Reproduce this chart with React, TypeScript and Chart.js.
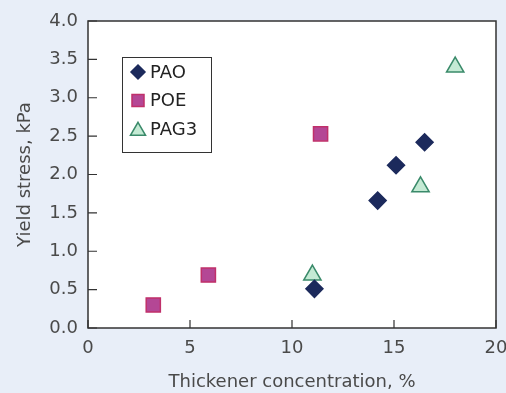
import React, { useEffect, useRef } from "react";
import { Chart, registerables } from "chart.js";

Chart.register(...registerables);

const seriesNames = ["PAO", "POE", "PAG3"];
const paoX = [11.1, 14.2, 15.1, 16.5];
const paoY = [0.51, 1.66, 2.12, 2.42];
const poeX = [3.2, 5.9, 11.4];
const poeY = [0.3, 0.69, 2.53];
const pag3X = [11.0, 16.3, 18.0];
const pag3Y = [0.69, 1.84, 3.4];

const xTitle = "Thickener concentration, %";
const yTitle = "Yield stress, kPa";

const FONT = "'DejaVu Sans', sans-serif";
const TEXT = "#4a4a4a";
const AXIS = "#333333";

const styles = [
  { pointStyle: "rectRot", radius: 8.5, legendRadius: 7, fill: "#1c2a5c", border: "#1c2a5c" },
  { pointStyle: "rect", radius: 10, legendRadius: 8.5, fill: "#b44795", border: "#c0306a" },
  { pointStyle: "triangle", radius: 10, legendRadius: 8.7, fill: "#c4ead4", border: "#3a8a6a" },
];

function toPoints(xs: number[], ys: number[]) {
  return xs.map((x, i) => ({ x, y: ys[i] }));
}

function drawMarker(ctx: CanvasRenderingContext2D, style: string, x: number, y: number, r: number) {
  ctx.beginPath();
  if (style === "rectRot") {
    ctx.moveTo(x, y - r);
    ctx.lineTo(x + r, y);
    ctx.lineTo(x, y + r);
    ctx.lineTo(x - r, y);
  } else if (style === "rect") {
    const s = r * Math.SQRT1_2;
    ctx.rect(x - s, y - s, 2 * s, 2 * s);
  } else {
    let a = 0;
    ctx.moveTo(x + Math.sin(a) * r, y - Math.cos(a) * r);
    a += (2 * Math.PI) / 3;
    ctx.lineTo(x + Math.sin(a) * r, y - Math.cos(a) * r);
    a += (2 * Math.PI) / 3;
    ctx.lineTo(x + Math.sin(a) * r, y - Math.cos(a) * r);
  }
  ctx.closePath();
}

const framePlugin = {
  id: "frame",
  afterDraw(chart: any) {
    const ctx: CanvasRenderingContext2D = chart.ctx;
    const { left, right, top, bottom } = chart.chartArea;
    const xs = chart.scales.x;
    const ys = chart.scales.y;
    ctx.save();
    ctx.strokeStyle = AXIS;
    ctx.lineWidth = 1.5;
    ctx.strokeRect(left, top, right - left, bottom - top);
    ctx.lineWidth = 1.2;
    ctx.beginPath();
    ys.ticks.forEach((t: any) => {
      const py = ys.getPixelForValue(t.value);
      ctx.moveTo(left, py);
      ctx.lineTo(left + 9, py);
    });
    xs.ticks.forEach((t: any) => {
      const px = xs.getPixelForValue(t.value);
      ctx.moveTo(px, bottom);
      ctx.lineTo(px, bottom - 8);
    });
    ctx.stroke();

    // legend box
    const bx = 122.5, by = 57.5, bw = 89, bh = 95;
    ctx.fillStyle = "#ffffff";
    ctx.fillRect(bx, by, bw, bh);
    ctx.strokeStyle = "#333333";
    ctx.lineWidth = 1;
    ctx.strokeRect(bx, by, bw, bh);
    const rows = [72, 100.5, 129];
    ctx.font = `18px ${FONT}`;
    ctx.textBaseline = "middle";
    ctx.textAlign = "left";
    chart.data.datasets.forEach((ds: any, i: number) => {
      const st = styles[i];
      drawMarker(ctx, st.pointStyle, 138, rows[i] + (st.pointStyle === "triangle" ? 2 : 0), st.legendRadius);
      ctx.fillStyle = st.fill;
      ctx.fill();
      ctx.strokeStyle = st.border;
      ctx.lineWidth = 1.5;
      ctx.stroke();
      ctx.fillStyle = "#222222";
      ctx.fillText(ds.label, 150, rows[i] + 1);
    });
    ctx.restore();
  },
};

const bgPlugin = {
  id: "bg",
  beforeDraw(chart: any) {
    const ctx: CanvasRenderingContext2D = chart.ctx;
    const { left, right, top, bottom } = chart.chartArea;
    ctx.save();
    ctx.fillStyle = "#e8eef8";
    ctx.fillRect(0, 0, chart.width, chart.height);
    ctx.fillStyle = "#ffffff";
    ctx.fillRect(left, top, right - left, bottom - top);
    ctx.restore();
  },
};

export default function App() {
  const ref = useRef<HTMLCanvasElement | null>(null);
  useEffect(() => {
    if (!ref.current) return;
    const allX = [paoX, poeX, pag3X];
    const allY = [paoY, poeY, pag3Y];
    const chart = new Chart(ref.current, {
      type: "scatter",
      data: {
        datasets: seriesNames.map((name, i) => ({
          label: name,
          data: toPoints(allX[i], allY[i]),
          pointStyle: styles[i].pointStyle as any,
          pointRadius: styles[i].radius,
          pointBackgroundColor: styles[i].fill,
          pointBorderColor: styles[i].border,
          pointBorderWidth: 1.5,
          showLine: false,
        })),
      },
      options: {
        animation: false,
        responsive: false,
        devicePixelRatio: 1,
        layout: { autoPadding: false, padding: { top: 21, right: 10, left: 0, bottom: 0 } },
        plugins: { legend: { display: false }, tooltip: { enabled: false } },
        scales: {
          x: {
            type: "linear",
            min: 0,
            max: 20,
            ticks: { stepSize: 5, padding: 10, color: TEXT, font: { family: FONT, size: 18 } },
            grid: { display: false, drawTicks: false },
            border: { display: false },
            title: { display: true, text: xTitle, color: TEXT, font: { family: FONT, size: 18 }, padding: { top: 0, bottom: 0 } },
            afterFit(scale: any) {
              scale.height = 65;
              scale.paddingRight = 0;
              scale.paddingLeft = 0;
            },
          },
          y: {
            type: "linear",
            min: 0,
            max: 4,
            ticks: {
              stepSize: 0.5,
              padding: 10,
              color: TEXT,
              font: { family: FONT, size: 18 },
              callback: (v: any) => Number(v).toFixed(1),
            },
            grid: { display: false, drawTicks: false },
            border: { display: false },
            title: { display: true, text: yTitle, color: TEXT, font: { family: FONT, size: 18 }, padding: { top: 15, bottom: 0 } },
            afterFit(scale: any) {
              scale.width = 88;
              scale.paddingTop = 0;
              scale.paddingBottom = 0;
            },
          },
        },
      },
      plugins: [bgPlugin, framePlugin],
    });
    return () => chart.destroy();
  }, []);
  return (
    <div style={{ position: "absolute", left: 0, top: 0, width: 506, height: 393 }}>
      <canvas ref={ref} width={506} height={393} />
    </div>
  );
}
